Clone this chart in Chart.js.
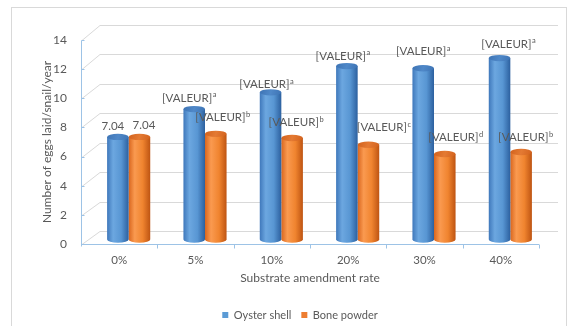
<!DOCTYPE html>
<html>
<head>
<meta charset="utf-8">
<script src="https://cdn.jsdelivr.net/npm/chart.js@4/dist/chart.umd.min.js"></script>
<style>
  html, body { margin: 0; padding: 0; background: #ffffff; }
  #wrap { width: 577px; height: 326px; }
</style>
</head>
<body>
<div id="wrap"><canvas id="chart" width="577" height="326"></canvas></div>
<script>
// ---- data ----
const categories = ['0%', '5%', '10%', '20%', '30%', '40%'];
const oysterShell = [7.04, 8.95, 10.1, 11.9, 11.75, 12.45];
const bonePowder = [7.04, 7.25, 6.97, 6.5, 5.87, 6.0];
// significance letters; null means the label shows the number itself
const oysterLetters = [null, 'a', 'a', 'a', 'a', 'a'];
const boneLetters = [null, 'b', 'b', 'c', 'd', 'b'];
const placeholderText = '[VALEUR]';
const yMin = 0, yMax = 14, yStep = 2;

// ---- label nudges (px) around the top of each cylinder ----
const oysterLabelDx = [-5, -5, -4, -4, 0, 9];
const oysterLabelDy = [-7, -8, -5, -7, -14, -11];
const boneLabelDx = [4.5, 7, 4, 15.5, 11, 4.5];
const boneLabelDy = [-8, -13, -12, -14.5, -13, -11.5];

// ---- look ----
const FONT = 'Lato, "Liberation Sans", Arial, sans-serif';
const TEXT = '#595959';
const AXIS_BLUE = '#9DC3E6';
const GRID = '#D9D9D9';
const BACK_DX = 19;          // back wall shift to the right
const BACK_DY0 = 13;         // back wall shift up at value 0
const BACK_DY1 = 15;         // back wall shift up at the top value
const MID_DX = 9.5;          // cylinders stand half way into the depth
const MID_DY = 4.5;
const RY = 3.2;              // ellipse half-height of cylinder caps

const SHADES = [
  { edgeL: '#3F78BB', light: '#6CA7E0', mid: '#5896D3', edgeR: '#2C609F', topA: '#3D73B4', topB: '#4F88C8' },
  { edgeL: '#D9661E', light: '#FA9A50', mid: '#F0842F', edgeR: '#BE5412', topA: '#D2611C', topB: '#E47A33' }
];

function backY(scale, v) {
  return scale.getPixelForValue(v) - (BACK_DY0 + (BACK_DY1 - BACK_DY0) * (v - yMin) / (yMax - yMin));
}

// frame, back wall, side wall lines and front axes
const wallPlugin = {
  id: 'wall',
  beforeDraw(chart) {
    const { ctx, chartArea: a, scales: { y } } = chart;
    ctx.save();
    ctx.fillStyle = '#ffffff';
    ctx.fillRect(0, 0, chart.width, chart.height);
    ctx.strokeStyle = GRID;
    ctx.lineWidth = 1;
    ctx.strokeRect(11.5, 7.5, 555, 330);

    for (let v = yMin; v <= yMax; v += yStep) {
      const yf = Math.round(y.getPixelForValue(v)) + 0.5;
      const yb = Math.round(backY(y, v)) + 0.5;
      ctx.strokeStyle = GRID;
      ctx.beginPath();
      ctx.moveTo(a.left + 1, yf);
      ctx.lineTo(a.left + BACK_DX, yb);
      ctx.lineTo(a.right + BACK_DX, yb);
      ctx.stroke();
    }
    ctx.restore();
  },
  afterDraw(chart) {
    const { ctx, chartArea: a, scales: { y } } = chart;
    ctx.save();
    ctx.strokeStyle = AXIS_BLUE;
    ctx.lineWidth = 1;
    const y0 = Math.round(y.getPixelForValue(yMin)) + 0.5;
    const yTop = Math.round(y.getPixelForValue(yMax)) + 0.5;
    const xl = Math.round(a.left) + 0.5;
    ctx.beginPath();
    ctx.moveTo(xl, yTop);
    ctx.lineTo(xl, y0 + 2);
    ctx.moveTo(xl, y0);
    ctx.lineTo(a.right, y0);
    ctx.stroke();
    // y tick marks
    ctx.beginPath();
    for (let v = yMin; v <= yMax; v += yStep) {
      const yy = Math.round(y.getPixelForValue(v)) + 0.5;
      ctx.moveTo(xl, yy);
      ctx.lineTo(xl + 3, yy);
    }
    // x tick marks at category boundaries
    const n = categories.length;
    for (let i = 1; i <= n; i++) {
      const xx = Math.round(a.left + (a.right - a.left) * i / n) + 0.5;
      ctx.moveTo(xx, y0);
      ctx.lineTo(xx, y0 + 4);
    }
    ctx.stroke();
    ctx.restore();
  }
};

function drawCylinder(ctx, cx, top, bottom, w, s) {
  const rx = w / 2;
  const l = cx - rx, r = cx + rx;
  const g = ctx.createLinearGradient(l, 0, r, 0);
  g.addColorStop(0, s.edgeL);
  g.addColorStop(0.28, s.light);
  g.addColorStop(0.65, s.mid);
  g.addColorStop(1, s.edgeR);
  ctx.beginPath();
  ctx.moveTo(l, top);
  ctx.lineTo(l, bottom);
  ctx.ellipse(cx, bottom, rx, RY, 0, Math.PI, 0, true);
  ctx.lineTo(r, top);
  ctx.closePath();
  ctx.fillStyle = g;
  ctx.fill();
  const gt = ctx.createLinearGradient(l, top - RY, r, top + RY);
  gt.addColorStop(0, s.topA);
  gt.addColorStop(0.5, s.topB);
  gt.addColorStop(1, s.topA);
  ctx.beginPath();
  ctx.ellipse(cx, top, rx, RY, 0, 0, Math.PI * 2);
  ctx.fillStyle = gt;
  ctx.fill();
}

// bars are drawn as shaded cylinders from the elements Chart.js lays out
const cylinderPlugin = {
  id: 'cylinders',
  beforeDatasetDraw(chart, args) {
    const ctx = chart.ctx;
    ctx.save();
    args.meta.data.forEach(bar => {
      const p = bar.getProps(['x', 'y', 'base', 'width'], true);
      drawCylinder(ctx, p.x + MID_DX, p.y - MID_DY, p.base - MID_DY, p.width, SHADES[args.index]);
    });
    ctx.restore();
    return false;
  }
};

const labelPlugin = {
  id: 'valueLabels',
  afterDatasetsDraw(chart) {
    const ctx = chart.ctx;
    const sets = [
      { letters: oysterLetters, dx: oysterLabelDx, dy: oysterLabelDy },
      { letters: boneLetters, dx: boneLabelDx, dy: boneLabelDy }
    ];
    ctx.save();
    ctx.fillStyle = TEXT;
    ctx.textBaseline = 'middle';
    ctx.textAlign = 'left';
    chart.data.datasets.forEach((ds, di) => {
      const meta = chart.getDatasetMeta(di);
      const cfg = sets[di];
      meta.data.forEach((bar, i) => {
        const p = bar.getProps(['x', 'y'], true);
        const letter = cfg.letters[i];
        const main = letter === null ? ds.data[i].toFixed(2) : placeholderText;
        ctx.font = '11.5px ' + FONT;
        const wMain = ctx.measureText(main).width;
        ctx.font = '7.5px ' + FONT;
        const wSup = letter ? ctx.measureText(letter).width + 0.5 : 0;
        const cx = p.x + MID_DX + cfg.dx[i];
        const cy = p.y - MID_DY - RY + cfg.dy[i];
        const x0 = cx - (wMain + wSup) / 2;
        ctx.font = '11.5px ' + FONT;
        ctx.fillText(main, x0, cy);
        if (letter) {
          ctx.font = '7.5px ' + FONT;
          ctx.fillText(letter, x0 + wMain + 0.5, cy - 3);
        }
      });
    });
    ctx.restore();
  }
};

new Chart(document.getElementById('chart'), {
  type: 'bar',
  data: {
    labels: categories,
    datasets: [
      { label: 'Oyster shell', data: oysterShell, backgroundColor: '#5B9BD5', borderWidth: 0 },
      { label: 'Bone powder', data: bonePowder, backgroundColor: '#ED7D31', borderWidth: 0 }
    ]
  },
  options: {
    responsive: false,
    animation: false,
    devicePixelRatio: 1,
    categoryPercentage: 0.565,
    barPercentage: 1,
    layout: { padding: { left: 23, right: 0, top: 40, bottom: -4.5 } },
    plugins: {
      legend: {
        position: 'bottom',
        labels: {
          boxWidth: 6, boxHeight: 6, padding: 10,
          color: TEXT, font: { family: FONT, size: 11 }
        }
      },
      tooltip: { enabled: false }
    },
    scales: {
      x: {
        grid: { display: false },
        border: { display: false },
        ticks: { color: TEXT, font: { family: FONT, size: 11.5 }, padding: 1 },
        title: {
          display: true, text: 'Substrate amendment rate',
          color: TEXT, font: { family: FONT, size: 12 },
          padding: { top: 4, bottom: 14 }
        },
        afterFit(s) { s.height = 55.5; }
      },
      y: {
        min: yMin, max: yMax,
        grid: { display: false },
        border: { display: false },
        ticks: { stepSize: yStep, color: TEXT, font: { family: FONT, size: 12 }, padding: 6 },
        title: {
          display: true, text: 'Number of eggs laid/snail/year',
          color: TEXT, font: { family: FONT, size: 12 },
          padding: { top: 17, bottom: 0 }
        },
        afterFit(s) { s.width = 58; }
      },
      spacer: {
        position: 'right',
        grid: { display: false },
        border: { display: false },
        ticks: { display: false },
        afterFit(s) { s.width = 38; }
      }
    }
  },
  plugins: [wallPlugin, cylinderPlugin, labelPlugin]
});
</script>
</body>
</html>
